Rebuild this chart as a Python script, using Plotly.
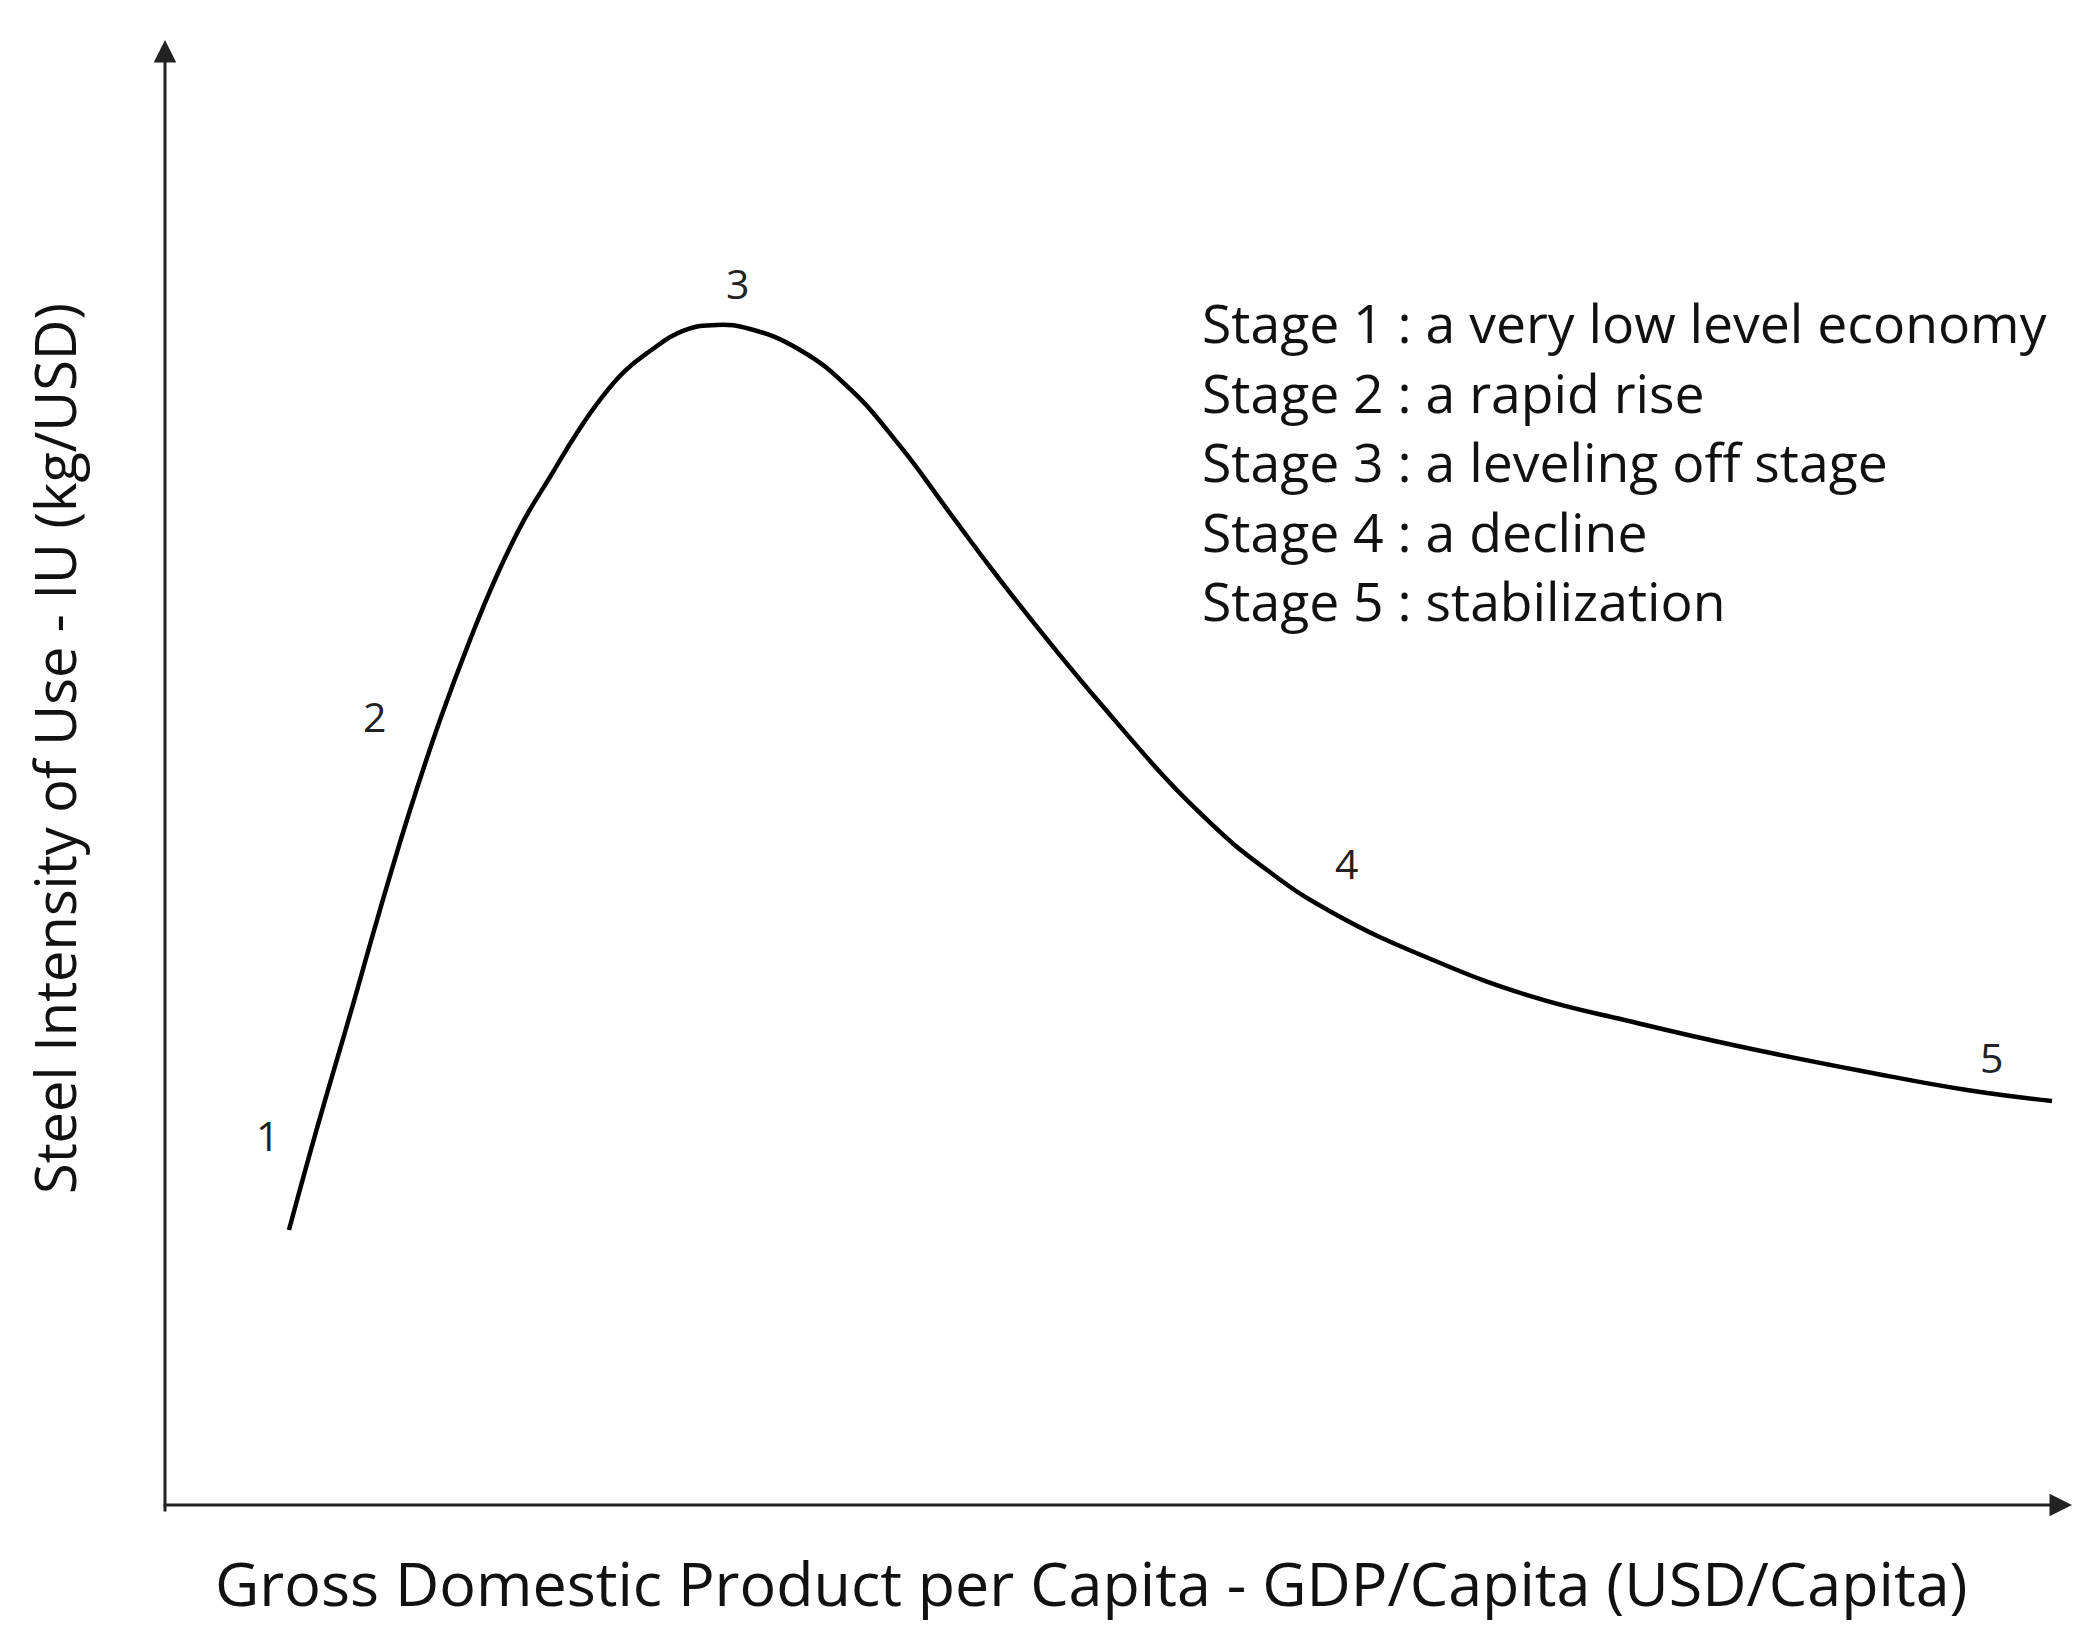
#!/usr/bin/env python
# -*- coding: utf-8 -*-

from plotly.graph_objects import Figure
from plotly.graph_objects import Scatter

# curve (index units, 0-100 on both axes)
gdp = [6.50, 8.02, 9.70, 11.27, 12.85, 14.42, 15.99, 17.46, 18.83, 20.19,
       21.50, 22.81, 24.12, 25.43, 27.16, 28.95, 30.68, 33.30, 35.92, 38.54,
       41.16, 43.79, 49.03, 54.27, 57.79, 61.25, 66.49, 71.74, 76.98, 82.22,
       89.25, 94.49, 98.95]
intensity = [18.77, 25.94, 33.45, 40.61, 47.44, 53.58, 59.04, 63.62, 67.24, 70.17,
             72.97, 75.43, 77.41, 78.77, 80.14, 80.55, 80.27, 78.84, 76.18, 72.29,
             67.71, 63.14, 54.74, 47.24, 43.34, 40.41, 37.20, 34.68, 32.97, 31.40,
             29.56, 28.33, 27.58]

stage_numbers = ["1", "2", "3", "4", "5"]
stage_x = [5.40, 11.01, 30.0, 61.98, 95.8]
stage_y = [25.26, 53.86, 83.4, 43.82, 30.58]

stage_notes = [
    "Stage 1 : a very low level economy",
    "Stage 2 : a rapid rise",
    "Stage 3 : a leveling off stage",
    "Stage 4 : a decline",
    "Stage 5 : stabilization",
]
notes_x = 54.27
notes_y = 71.2

x_title = "Gross Domestic Product per Capita - GDP/Capita (USD/Capita)"
y_title = "Steel Intensity of Use - IU (kg/USD)"

FONT = "Open Sans"
INK = "#111111"


def create_figure():
    figure = Figure()
    figure.add_trace(
        Scatter(
            x=gdp,
            y=intensity,
            mode="lines",
            line=dict(color="black", width=4.5, shape="spline", smoothing=1.3),
            hoverinfo="skip",
            showlegend=False,
        )
    )
    # page body keeps an 8px margin, so the figure is 16px smaller than the window
    figure.update_layout(
        width=2082,
        height=1618,
        margin=dict(t=32, r=18, b=121, l=157),
        paper_bgcolor="white",
        plot_bgcolor="white",
        showlegend=False,
        font=dict(family=FONT, color=INK),
    )
    figure.update_xaxes(range=[0, 100], showticklabels=False, showgrid=False,
                        zeroline=False, showline=False)
    figure.update_yaxes(range=[0, 100], showticklabels=False, showgrid=False,
                        zeroline=False, showline=False)

    # axes drawn as arrows
    figure.add_annotation(x=0, y=100, ax=0, ay=-0.55, xref="x", yref="y",
                          axref="x", ayref="y", text="", showarrow=True,
                          arrowhead=2, arrowsize=1.5, arrowwidth=3,
                          arrowcolor="#222222", standoff=0)
    figure.add_annotation(x=100, y=0, ax=-0.15, ay=0, xref="x", yref="y",
                          axref="x", ayref="y", text="", showarrow=True,
                          arrowhead=2, arrowsize=1.5, arrowwidth=3,
                          arrowcolor="#222222", standoff=0)

    for label, x, y in zip(stage_numbers, stage_x, stage_y):
        figure.add_annotation(x=x, y=y, text=label, showarrow=False,
                              xanchor="center", yanchor="middle",
                              font=dict(size=41, color="#222222"))

    figure.add_annotation(x=notes_x, y=notes_y, text="<br>".join(stage_notes),
                          showarrow=False, xanchor="left", yanchor="middle",
                          align="left", font=dict(size=53.5, color=INK))

    figure.add_annotation(x=48.6, y=-0.0526, xref="x", yref="paper", text=x_title,
                          xanchor="center", yanchor="middle",
                          showarrow=False, font=dict(size=61, color=INK))
    figure.add_annotation(x=-0.0582, y=51.6, xref="paper", yref="y", text=y_title,
                          xanchor="center", yanchor="middle",
                          textangle=-90, showarrow=False,
                          font=dict(size=56, color=INK))
    return figure


fig = create_figure()
fig.write_html("out.html")
